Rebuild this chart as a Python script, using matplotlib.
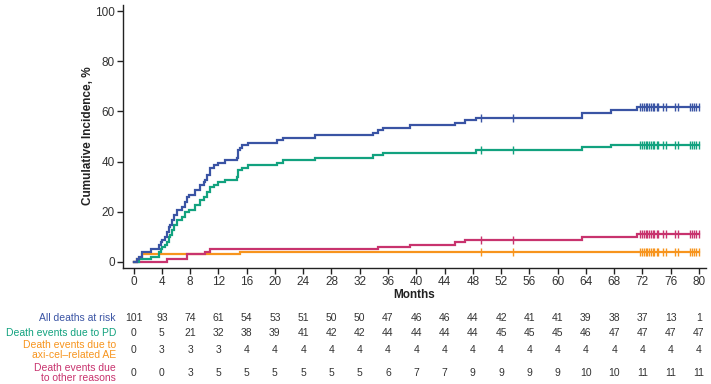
import matplotlib
matplotlib.use("Agg")
import matplotlib.pyplot as plt
from matplotlib.transforms import blended_transform_factory

plt.rcParams['font.family'] = ['Liberation Sans', 'DejaVu Sans']

# ---- data ----
all_t = [0, 0.45, 0.7, 1.2, 2.5, 3.6, 3.9, 4.05, 4.4, 4.7, 5.0, 5.2, 5.4, 5.7, 6.1, 6.8, 7.3, 7.6, 7.8,
         8.7, 9.4, 9.9, 10.1, 10.4, 10.8, 11.4, 11.9, 12.9, 14.6, 14.8, 15.1, 15.3, 16.2, 20.3, 21.2,
         25.7, 33.9, 34.6, 35.3, 39.1, 45.5, 46.9, 48.5, 63.4, 67.6, 71.2, 80]
all_v = [0, 1.0, 2.0, 4.0, 5.0, 6.9, 7.9, 8.9, 9.9, 11.9, 13.9, 14.9, 16.8, 18.8, 20.8, 21.8, 23.8, 25.7, 26.7,
         28.7, 30.7, 31.7, 32.7, 34.7, 37.6, 38.6, 39.6, 40.6, 41.6, 44.6, 45.5, 46.5, 47.5, 48.5, 49.5,
         50.5, 51.5, 52.5, 53.5, 54.5, 55.4, 56.4, 57.4, 59.5, 60.5, 61.6, 61.6]

pd_t = [0, 0.7, 2.5, 3.6, 3.9, 4.05, 4.4, 4.7, 5.0, 5.2, 5.4, 5.7, 6.1, 6.8, 7.3, 7.8, 8.7, 9.4, 9.9,
        10.4, 10.8, 11.4, 11.9, 12.9, 14.6, 14.8, 15.3, 16.2, 20.3, 21.2, 25.7, 33.9, 35.3, 48.5, 63.4, 67.6, 80]
pd_v = [0, 1.0, 2.0, 4.0, 5.0, 5.9, 6.9, 7.9, 9.9, 10.9, 12.9, 14.9, 16.8, 17.8, 19.8, 20.8, 22.8, 24.8, 25.7,
        27.7, 29.7, 30.7, 31.7, 32.7, 33.7, 36.6, 37.6, 38.6, 39.6, 40.6, 41.6, 42.6, 43.6, 44.6, 45.7, 46.7, 46.7]

ae_t = [0, 0.45, 1.2, 15.1, 80]
ae_v = [0, 1.0, 3.0, 4.0, 4.0]

oth_t = [0, 4.7, 7.6, 10.1, 10.8, 34.6, 39.1, 45.5, 46.9, 63.4, 71.2, 80]
oth_v = [0, 1.0, 3.0, 4.0, 5.0, 5.9, 6.9, 7.9, 8.9, 10.0, 11.1, 11.1]

censor_t = [49.2, 53.7, 71.7, 72.0, 72.2, 72.5, 72.7, 73.0, 73.2, 73.5, 73.7, 74.0, 74.2,
            74.9, 75.4, 76.6, 77.0, 78.7, 79.0, 79.3, 79.6, 80.0]

x_ticks = list(range(0, 81, 4))
y_ticks = [0, 20, 40, 60, 80, 100]

row_labels = ["All deaths at risk", "Death events due to PD",
              "Death events due to\naxi-cel\u2013related AE", "Death events due\nto other reasons"]
risk_all = [101, 93, 74, 61, 54, 53, 51, 50, 50, 47, 46, 46, 44, 42, 41, 41, 39, 38, 37, 13, 1]
risk_pd = [0, 5, 21, 32, 38, 39, 41, 42, 42, 44, 44, 44, 44, 45, 45, 45, 46, 47, 47, 47, 47]
risk_ae = [0, 3, 3, 3, 4, 4, 4, 4, 4, 4, 4, 4, 4, 4, 4, 4, 4, 4, 4, 4, 4]
risk_oth = [0, 0, 3, 5, 5, 5, 5, 5, 5, 6, 7, 7, 9, 9, 9, 9, 10, 10, 11, 11, 11]

c_blue = "#3A54A4"
c_green = "#12A27F"
c_orange = "#F7941D"
c_pink = "#C8336E"
txt = "#333333"

fig = plt.figure(figsize=(7.11, 3.84), dpi=100)
ax = fig.add_axes([123/711, 1-268/384, (706-123)/711, (268-5)/384])

def step_at(ts, vs, x):
    v = vs[0]
    for t, val in zip(ts, vs):
        if t <= x:
            v = val
    return v

for ts, vs, c in [(ae_t, ae_v, c_orange), (oth_t, oth_v, c_pink), (pd_t, pd_v, c_green), (all_t, all_v, c_blue)]:
    ax.step(ts, vs, where='post', color=c, lw=1.6, solid_joinstyle='miter')
    cy = [step_at(ts, vs, x) for x in censor_t]
    ax.plot(censor_t, cy, ls='none', marker='|', ms=6, mew=1.0, color=c)

ax.set_xlim(-1.5, 81.0)
ax.set_ylim(-2.4, 102.4)
ax.set_xticks(x_ticks)
ax.set_yticks(y_ticks)
ax.tick_params(labelsize=8.5, labelcolor=txt, length=4, width=1, color="#222222", pad=2)
for s in ['top', 'right']:
    ax.spines[s].set_visible(False)
for s in ['left', 'bottom']:
    ax.spines[s].set_color("#222222")
    ax.spines[s].set_linewidth(1)

fig.text(88/711, 1-136/384, "Cumulative Incidence, %", rotation=90, ha='center', va='center',
         fontsize=8.5, fontweight='bold', color="#222222")
fig.text(414/711, 1-295/384, "Months", ha='center', va='center', fontsize=8.5, fontweight='bold', color="#222222")

tr = blended_transform_factory(ax.transData, fig.transFigure)
rows = [(risk_all, c_blue, 318), (risk_pd, c_green, 333), (risk_ae, c_orange, 350), (risk_oth, c_pink, 373)]
for (vals, col, ypix), lab in zip(rows, row_labels):
    yf = 1 - ypix/384
    fig.text(116/711, yf, lab, ha='right', va='center', fontsize=7.5, color=col, linespacing=1.05)
    for x, v in zip(x_ticks, vals):
        ax.text(x, yf, str(v), transform=tr, ha='center', va='center', fontsize=7.5, color=txt)

fig.savefig("out.png", dpi=100)
